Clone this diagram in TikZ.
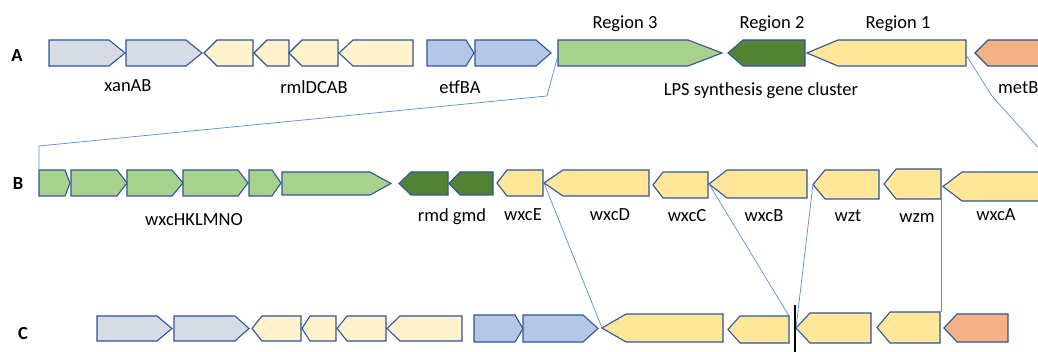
\documentclass[tikz,border=0pt]{standalone}
\usepackage{fontspec}
\setmainfont{Carlito}
\definecolor{edge}{HTML}{2F5597}
\definecolor{link}{HTML}{5B8BD9}
\definecolor{cgrey}{HTML}{D6DCE5}
\definecolor{cpale}{HTML}{FFF2CC}
\definecolor{cblue}{HTML}{B4C7E7}
\definecolor{clgreen}{HTML}{A9D18E}
\definecolor{cdgreen}{HTML}{548235}
\definecolor{cyellow}{HTML}{FFE699}
\definecolor{corange}{HTML}{F4B183}
\tikzset{
  gene/.style={draw=edge,line width=1.1pt,line join=miter},
  lbl/.style={font=\fontsize{18.5}{21}\selectfont,inner sep=0pt},
  rowlbl/.style={font=\fontsize{18.5}{21}\selectfont\bfseries,inner sep=0pt},
  linkline/.style={draw=link,line width=0.7pt},
}
% right-pointing gene: left, shoulder, tip, top, bottom, fill
\newcommand\gR[6]{\draw[gene,fill=#6] (#1,#4) -- (#2,#4) -- (#3,{(#4+#5)/2}) -- (#2,#5) -- (#1,#5) -- cycle;}
% left-pointing gene: tip, shoulder, right, top, bottom, fill
\newcommand\gL[6]{\draw[gene,fill=#6] (#1,{(#4+#5)/2}) -- (#2,#4) -- (#3,#4) -- (#3,#5) -- (#2,#5) -- cycle;}
\begin{document}
\begin{tikzpicture}[x=1pt,y=-1pt]
\useasboundingbox (0,0) rectangle (1038,352);
\clip (0,0) rectangle (1038,352);
% ---------- Row A ----------
\node[rowlbl] (la) at (17,56) {A};
\gR{49}{109}{125}{40}{66}{cgrey}
\gR{126}{186}{202}{40}{66}{cgrey}
\gL{204}{217}{253}{40}{66}{cpale}
\gL{254}{267}{289}{40}{66}{cpale}
\gL{289}{302}{338}{40}{66}{cpale}
\gL{339}{353}{413}{40}{66}{cpale}
\gR{427}{466}{474}{40}{66}{cblue}
\gR{475}{536}{551}{40}{66}{cblue}
\gR{558}{688}{722}{40}{66}{clgreen}
\gL{728}{743}{805}{40}{66}{cdgreen}
\gL{807}{838}{966}{40}{66}{cyellow}
\gL{975}{988}{1060}{40}{66}{corange}
\node[lbl] (xan) at (128,86) {xanAB};
\node[lbl] (rml) at (314,87) {rmlDCAB};
\node[lbl] (etf) at (460,87) {etfBA};
\node[lbl] (r3) at (625,24) {Region 3};
\node[lbl] (r2) at (772,24) {Region 2};
\node[lbl] (r1) at (898,24) {Region 1};
\node[lbl] (lps) at (761,91) {LPS synthesis gene cluster};
\node[lbl,anchor=west] (metb) at (998,88) {metB};
% ---------- Row B ----------
\node[rowlbl] (lb) at (18,184) {B};
\gR{39}{65}{70}{170}{196}{clgreen}
\gR{71}{117}{127}{170}{196}{clgreen}
\gR{127}{172}{183}{170}{196}{clgreen}
\gR{183}{238}{248}{170}{196}{clgreen}
\gR{249}{272}{281}{170}{196}{clgreen}
\gR{282}{370}{391}{172}{195}{clgreen}
\gL{399}{411}{448}{172}{195}{cdgreen}
\gL{449}{460}{493}{172}{195}{cdgreen}
\gL{497}{507}{543}{170}{196}{cyellow}
\gL{544}{563}{649}{170}{196}{cyellow}
\gL{653}{663}{708}{172}{198}{cyellow}
\gL{709}{727}{807}{170}{198}{cyellow}
\gL{813}{825}{879}{170}{199}{cyellow}
\gL{884}{896}{941}{169}{199}{cyellow}
\gL{943}{962}{1060}{172}{201}{cyellow}
\node[lbl] (wh) at (194,220) {wxcHKLMNO};
\node[lbl] (rg) at (452,217) {rmd gmd};
\node[lbl] (we) at (523,215) {wxcE};
\node[lbl] (wd) at (610,215) {wxcD};
\node[lbl] (wc) at (687,216) {wxcC};
\node[lbl] (wb) at (764,216) {wxcB};
\node[lbl] (wt) at (848,216) {wzt};
\node[lbl] (wm) at (917,218) {wzm};
\node[lbl] (wa) at (996,215) {wxcA};
% ---------- Row C ----------
\node[rowlbl] (lc) at (23,333) {C};
\gR{97}{157}{172}{316}{341}{cgrey}
\gR{174}{235}{249}{316}{341}{cgrey}
\gL{252}{262}{301}{316}{341}{cpale}
\gL{302}{310}{336}{316}{341}{cpale}
\gL{337}{347}{386}{316}{341}{cpale}
\gL{387}{400}{462}{316}{341}{cpale}
\gR{474}{515}{523}{315}{342}{cblue}
\gR{523}{583}{598}{315}{342}{cblue}
\gL{602}{626}{723}{314}{342}{cyellow}
\gL{728}{740}{789}{316}{343}{cyellow}
\gL{796}{810}{871}{313}{343}{cyellow}
\gL{877}{890}{940}{312}{343}{cyellow}
\gL{944}{957}{1008}{314}{342}{corange}
% ---------- connection points ----------
\coordinate (r3a) at (558,55);
\coordinate (r3b) at (547,96);
\coordinate (r3c) at (39,146);
\coordinate (b1) at (39,170);
\coordinate (r1a) at (966,55);
\coordinate (r1b) at (992,96);
\coordinate (waend) at (1060,172);
\coordinate (ed) at (544,183);
\coordinate (c8) at (602,328);
\coordinate (cb) at (709,184);
\coordinate (c9) at (789,316);
\coordinate (wzt) at (813,184);
\coordinate (c10) at (796,328);
\coordinate (wzm) at (941,199);
\coordinate (c11) at (941,312);
\coordinate (bt) at (795,305);
\coordinate (bb) at (795,352);
% ---------- connectors ----------
\draw[linkline] (r3a) -- (r3b) -- (r3c) -- (b1);
\draw[linkline] (r1a) -- (r1b) -- (waend);
\draw[linkline] (ed) -- (c8);
\draw[linkline] (cb) -- (c9);
\draw[linkline] (wzt) -- (c10);
\draw[linkline] (wzm) -- (c11);
\draw[black,line width=1.6pt] (bt) -- (bb);
\end{tikzpicture}
\end{document}
